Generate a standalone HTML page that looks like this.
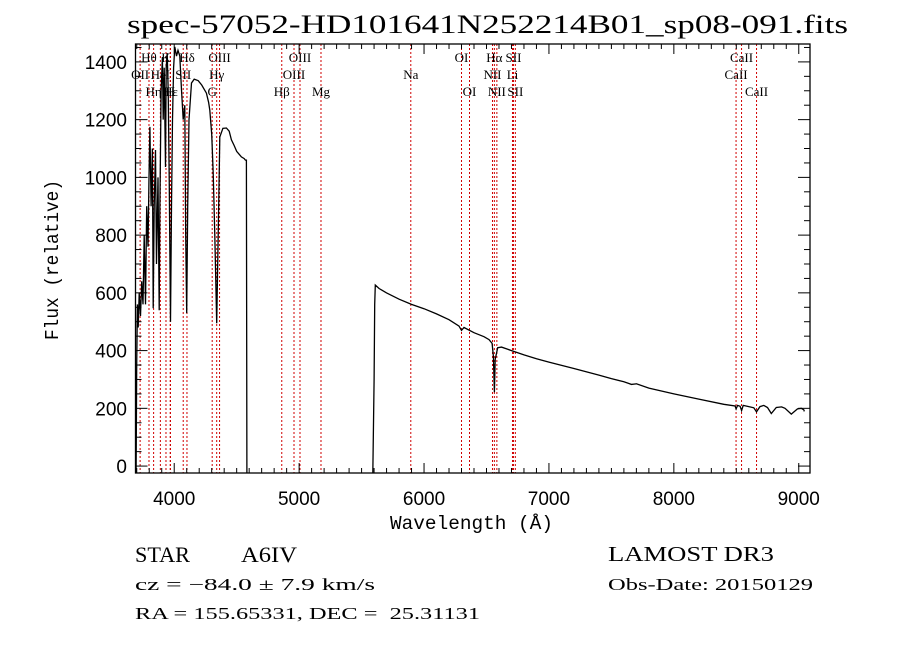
<!DOCTYPE html>
<html><head><meta charset="utf-8"><style>
html,body{margin:0;padding:0;background:#fff;}
svg{display:block;}
text{fill:#000;white-space:pre;}
</style></head><body>
<svg id="chart" width="900" height="649" viewBox="0 0 900 649" xmlns="http://www.w3.org/2000/svg">
<rect x="0" y="0" width="900" height="649" fill="#fff"/>
<text x="127" y="33" font-family="Liberation Serif, serif" font-size="26" textLength="721" lengthAdjust="spacingAndGlyphs">spec-57052-HD101641N252214B01_sp08-091.fits</text>
<g id="lines"></g>
<g id="labels"></g>
<g id="spec"></g>
<g id="axes"></g>
<text transform="translate(58,340) rotate(-90)" font-family="Liberation Mono, monospace" font-size="19" textLength="160" lengthAdjust="spacingAndGlyphs">Flux (relative)</text>
<text x="390" y="529" font-family="Liberation Mono, monospace" font-size="19" textLength="163" lengthAdjust="spacingAndGlyphs">Wavelength (Å)</text>
<text x="135" y="562" font-family="Liberation Serif, serif" font-size="22" textLength="55" lengthAdjust="spacingAndGlyphs">STAR</text>
<text x="241" y="562" font-family="Liberation Serif, serif" font-size="22" textLength="56" lengthAdjust="spacingAndGlyphs">A6IV</text>
<text x="608" y="561" font-family="Liberation Serif, serif" font-size="21" textLength="166" lengthAdjust="spacingAndGlyphs">LAMOST DR3</text>
<text x="135" y="590" font-family="Liberation Serif, serif" font-size="17" textLength="240" lengthAdjust="spacingAndGlyphs">cz = −84.0 ± 7.9 km/s</text>
<text x="608" y="590" font-family="Liberation Serif, serif" font-size="17" textLength="205" lengthAdjust="spacingAndGlyphs">Obs-Date: 20150129</text>
<text x="135" y="619" font-family="Liberation Serif, serif" font-size="17" textLength="345" lengthAdjust="spacingAndGlyphs">RA = 155.65331, DEC =  25.31131</text>
</svg>
<script>
// ---- data ----
const waves = [3690,3693,3695,3700,3705,3712,3720,3730,3740,3750,3760,3770,3780,3790,3798,3805,3815,3825,3832,3840,3850,3858,3870,3880,3885,3895,3905,3912,3920,3930,3936,3944,3952,3960,3970,3978,3986,3995,4005,4018,4030,4045,4058,4072,4085,4092,4100,4108,4118,4138,4160,4192,4220,4258,4275,4285,4300,4312,4325,4340,4352,4365,4390,4418,4440,4458,4480,4500,4520,4538,4560,4570,4578,4582,4590,5000,5590,5600,5605,5610,5640,5700,5800,5900,6000,6100,6200,6280,6300,6320,6400,6480,6520,6545,6555,6563,6570,6590,6620,6700,6800,6900,7000,7200,7400,7500,7600,7640,7660,7700,7800,8000,8200,8400,8490,8498,8510,8530,8542,8555,8600,8640,8662,8690,8720,8750,8780,8820,8863,8890,8940,8990,9020,9040,9043,9045];
const flux = [-30,274,-30,350,560,480,600,520,640,560,800,560,900,760,1000,1175,900,1100,547,900,1095,700,1000,540,900,1300,1417,1200,1380,1036,1380,1430,1300,1000,500,900,1200,1380,1452,1420,1440,1420,1303,1200,1250,800,530,900,1200,1327,1340,1335,1320,1292,1260,1233,1150,1015,800,495,800,1140,1170,1171,1160,1130,1110,1090,1080,1071,1065,1060,1060,-30,-30,-30,-30,300,560,627,615,600,578,560,545,527,507,485,470,480,462,448,438,425,380,256,370,410,412,400,385,372,360,338,315,303,292,286,283,285,270,250,232,214,208,198,210,207,192,210,206,202,188,206,210,203,182,203,205,200,180,198,200,195,192,194,-30];
const tickX = [4000,5000,6000,7000,8000,9000];
const tickY = [0,200,400,600,800,1000,1200,1400];
const lineWaves = [3727,3798,3835,3889,3934,3968,3970,4072,4102,4304,4340,4363,4861,4959,5007,5175,5894,6300,6364,6548,6563,6583,6708,6716,6731,8498,8542,8662];
const labelText = ["OII","Hθ","Hη","HeI","K","H","Hε","SII","Hδ","G","Hγ","OIII","Hβ","OIII","OIII","Mg","Na","OI","OI","NII","Hα","NII","Li","SII","SII","CaII","CaII","CaII"];
const labelRow = [2,1,3,2,1,3,3,2,1,3,2,1,3,2,1,3,2,1,3,2,1,3,2,1,3,2,1,3];

// ---- axes functions ----
const X0=135.5, X1=810, Y0=44, Y1=473, WMIN=3690, WMAX=9090, FMIN=-24, FMAX=1462;
const xs = w => X0 + (w-WMIN)/(WMAX-WMIN)*(X1-X0);
const ys = f => Y1 - (f-FMIN)/(FMAX-FMIN)*(Y1-Y0);
const NS="http://www.w3.org/2000/svg";
function mk(tag, attrs, parent){const e=document.createElementNS(NS,tag);for(const k in attrs)e.setAttribute(k,attrs[k]);parent.appendChild(e);return e;}

const gl=document.getElementById('lines'), glab=document.getElementById('labels'), gs=document.getElementById('spec'), ga=document.getElementById('axes');
const rowY={1:62,2:79,3:96};
lineWaves.forEach((w,i)=>{
  const l=mk('line',{x1:xs(w),x2:xs(w),y1:Y0,y2:Y1,stroke:'#d00000','stroke-width':1,'stroke-dasharray':'2,2'},gl);
  
  
  const t=mk('text',{x:xs(w),y:rowY[labelRow[i]],'text-anchor':'middle','font-family':'Liberation Serif, serif','font-size':13},glab);
  t.textContent=labelText[i];
  
  
});
let d='';
waves.forEach((w,i)=>{d+=(i?'L':'M')+xs(w).toFixed(1)+','+ys(flux[i]).toFixed(1);});
const clip=mk('clipPath',{id:'plotclip'},gs);
mk('rect',{x:X0,y:Y0,width:X1-X0,height:Y1-Y0},clip);
const p=mk('path',{d:d,fill:'none',stroke:'#000','stroke-width':1.3,'clip-path':'url(#plotclip)'},gs);



const fr=mk('rect',{x:X0,y:Y0,width:X1-X0,height:Y1-Y0,fill:'none',stroke:'#000','stroke-width':1.3},ga);


for(let w=3700;w<=9090;w+=100){
  const major=w%1000===0, len=major?10:5;
  mk('line',{x1:xs(w),x2:xs(w),y1:Y1,y2:Y1-len,stroke:'#000','stroke-width':1},ga);
  mk('line',{x1:xs(w),x2:xs(w),y1:Y0,y2:Y0+len,stroke:'#000','stroke-width':1},ga);
}
for(let f=0;f<=1450;f+=50){
  const major=f%200===0, len=major?12:6;
  mk('line',{x1:X0,x2:X0+len,y1:ys(f),y2:ys(f),stroke:'#000','stroke-width':1},ga);
  mk('line',{x1:X1,x2:X1-len,y1:ys(f),y2:ys(f),stroke:'#000','stroke-width':1},ga);
}
tickX.forEach(w=>{
  const t=mk('text',{x:xs(w),y:505,'text-anchor':'middle','font-family':'Liberation Sans, sans-serif','font-size':19},ga);
  t.textContent=w;
  
  
});
tickY.forEach(f=>{
  const t=mk('text',{x:127,y:ys(f)+7,'text-anchor':'end','font-family':'Liberation Sans, sans-serif','font-size':19},ga);
  t.textContent=f;
  
  
});
</script>
</body></html>
